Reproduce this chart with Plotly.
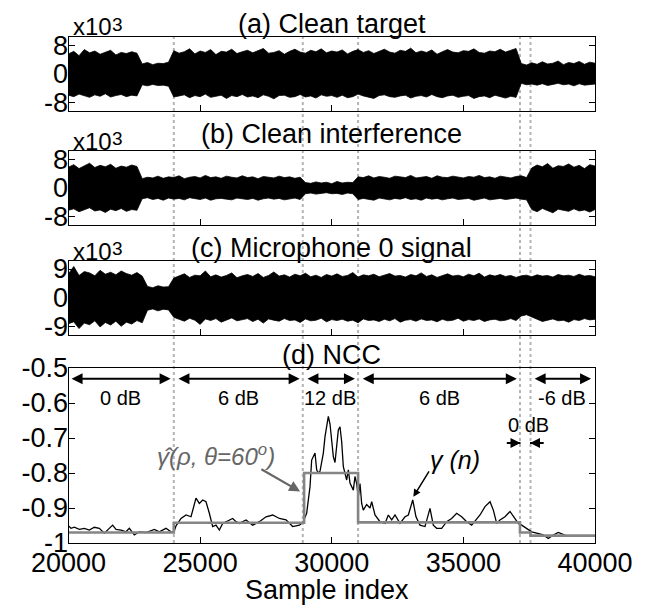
import plotly.graph_objects as go

PAGE_W, PAGE_H = 649, 608
OFF = 8                       # body margin of the page around the plot div
W, H = PAGE_W - OFF, PAGE_H - OFF
FONT = "Liberation Sans, Arial, sans-serif"

# ---------------- data ----------------
wave_x = [20000 + 200 * i for i in range(101)]   # sample positions of envelope readings

# (a) clean target envelope (x10^3)
a_hi = ([5.6, 6.3, 5.1, 6.8, 5.9, 6.4, 5.5, 6.1, 6.6, 5.3, 6.0, 5.7, 6.2, 5.8]
        + [2.8, 3.2, 2.6, 3.0, 2.9, 3.3]
        + [6.5, 5.8, 6.2, 7.0, 5.6, 6.4, 6.0, 6.8, 5.4, 6.3, 6.1, 6.9, 5.7, 6.2, 6.6, 5.9, 6.4, 7.1, 5.8, 6.0,
           6.5, 5.5, 6.3, 6.9, 6.1, 5.8, 6.6, 6.2, 7.0, 5.9, 6.4, 6.1, 6.7, 5.6, 6.3, 6.8, 6.0, 6.5, 5.7, 6.2,
           6.9, 6.1, 5.8, 6.6, 6.3, 7.2, 5.9, 6.4, 6.0, 6.7, 5.5, 6.2, 6.8, 6.1, 5.9, 6.5, 6.3, 7.0, 6.0, 5.8,
           6.4, 6.2, 6.9, 6.1, 6.6, 7.1]
        + [2.9, 2.5, 3.1, 2.7, 3.4, 2.8, 3.0, 3.6, 2.6, 3.2, 2.9, 3.5, 2.7, 3.3, 3.0])
a_lo = ([-5.9, -6.3, -5.6, -6.1, -6.5, -5.8, -6.2, -5.5, -6.4, -6.0, -5.7, -6.3, -5.9, -6.1]
        + [-3.0, -3.3, -2.9, -3.2, -3.1, -3.4]
        + [-6.4, -6.1, -5.8, -6.6, -6.0, -6.3, -5.6, -6.5, -6.2, -5.9, -6.8, -6.0, -6.3, -5.7, -6.4, -6.1,
           -6.6, -5.8, -6.2, -6.9, -6.0, -5.9, -6.5, -6.3, -5.7, -6.4, -6.1, -6.7, -5.8, -6.2, -6.0, -6.5,
           -5.9, -6.6, -6.3, -5.6, -6.1, -6.4, -6.8, -6.0, -5.8, -6.3, -6.5, -6.1, -5.9, -6.7, -6.2, -6.0,
           -6.4, -5.7, -6.3, -6.6, -6.1, -5.9, -6.5, -6.2, -6.0, -6.8, -6.3, -6.1, -6.6, -5.9, -6.4, -6.7,
           -6.2, -6.5]
        + [-2.6, -3.0, -2.8, -3.1, -2.7, -3.2, -2.9, -2.6, -3.0, -2.8, -3.3, -2.7, -3.1, -2.9, -2.8])

# (b) clean interference envelope (x10^3)
b_hi = ([5.8, 6.5, 5.4, 6.2, 6.9, 5.7, 6.3, 5.9, 6.6, 5.5, 6.1, 5.8, 6.4, 6.0]
        + [2.6, 3.0, 2.8, 3.3, 2.7, 3.1, 2.9, 3.4, 2.6, 3.0, 3.2, 2.8, 3.5, 2.9, 3.1, 2.7, 3.3, 3.0, 2.8, 3.4,
           2.9, 3.1, 2.6, 3.2, 3.0, 2.8, 3.3, 2.9, 3.1, 2.7, 3.0]
        + [1.5, 1.3, 1.7, 1.4, 1.6, 1.2, 1.8, 1.4, 1.6, 1.5]
        + [3.1, 2.9, 3.4, 2.8, 3.2, 3.0, 2.7, 3.3, 3.1, 2.9, 3.5, 2.8, 3.0, 3.2, 2.7, 3.4, 3.0, 2.9, 3.3, 3.1,
           2.8, 3.2, 3.0, 3.5, 2.9, 3.1, 2.7, 3.3, 3.0, 2.8, 3.2, 3.4, 2.9]
        + [5.6, 6.4, 5.9, 6.8, 5.5, 6.2, 6.0, 6.7, 5.8, 6.3, 5.4, 6.5, 6.1])
b_lo = ([-6.2, -5.8, -6.6, -6.0, -5.5, -6.4, -6.1, -6.8, -5.9, -6.3, -5.7, -6.5, -6.0, -6.2]
        + [-3.0, -2.7, -3.2, -2.9, -3.4, -2.8, -3.1, -2.9, -3.3, -2.7, -3.0, -3.2, -2.8, -3.4, -3.0, -2.9,
           -3.1, -3.3, -2.8, -3.0, -3.2, -2.9, -3.4, -3.0, -2.8, -3.1, -2.9, -3.3, -3.0, -2.8, -3.2]
        + [-1.6, -1.4, -1.7, -1.5, -1.3, -1.6, -1.5, -1.8, -1.4, -1.6]
        + [-3.2, -2.9, -3.1, -3.4, -2.8, -3.0, -3.3, -2.9, -3.1, -2.7, -3.2, -3.0, -3.4, -2.8, -3.1, -2.9,
           -3.3, -3.0, -2.8, -3.2, -3.1, -2.9, -3.4, -3.0, -2.8, -3.3, -3.1, -2.9, -3.2, -3.0, -2.8, -3.1, -3.3]
        + [-6.0, -6.6, -5.7, -6.3, -6.9, -5.9, -6.2, -6.5, -5.8, -6.4, -6.1, -6.7, -6.0])

# (c) microphone 0 signal envelope (x10^3)
c_hi = ([7.5, 9.8, 7.0, 8.2, 7.8, 6.9, 8.6, 7.4, 8.0, 7.2, 8.4, 7.6, 7.1, 7.9, 6.8]
        + [3.6, 3.2, 3.8, 3.4, 3.5]
        + [6.2, 6.8, 7.5, 6.4, 7.1, 6.9, 8.4, 6.6, 7.2, 6.5, 7.0, 7.8, 6.3, 6.9, 7.3, 6.7, 7.6, 6.4, 7.0, 8.1,
           6.8, 7.2, 6.5, 7.4, 6.9, 7.7, 6.6, 7.1, 6.4, 7.3, 6.8, 7.5, 6.7, 7.0, 7.9, 6.5, 7.2, 6.9, 7.4, 6.6,
           7.1, 7.6, 6.8, 7.0, 6.5, 7.3, 6.9, 7.8, 6.7, 7.2, 6.4, 7.0, 7.5, 6.8, 7.1, 6.6, 7.4, 6.9, 7.7, 6.5,
           7.2, 6.8, 7.3, 6.7, 7.0, 6.4, 6.9, 7.1, 6.6, 7.2, 6.8, 7.0, 6.5, 7.3, 6.9, 7.1, 6.7, 7.4, 6.8, 7.0,
           6.6])
c_lo = ([-8.0, -7.4, -9.5, -7.8, -8.3, -7.1, -9.0, -7.6, -8.4, -7.2, -8.8, -7.5, -8.1, -7.0, -7.7]
        + [-3.8, -3.4, -4.0, -3.5, -3.7]
        + [-6.0, -6.6, -7.2, -6.3, -6.9, -8.2, -6.5, -7.0, -6.4, -7.5, -6.8, -6.2, -7.1, -6.7, -6.4, -7.3,
           -6.6, -7.8, -6.5, -6.9, -7.2, -6.4, -7.0, -6.8, -7.6, -6.5, -7.1, -6.9, -6.3, -7.4, -6.7, -7.0,
           -6.6, -7.2, -6.9, -7.7, -6.5, -7.0, -6.8, -7.3, -6.6, -7.1, -6.4, -7.5, -6.9, -6.7, -7.2, -6.5,
           -7.0, -6.8, -7.4, -6.6, -7.1, -6.9, -6.3, -7.2, -6.7, -7.0, -6.5, -7.3,
           -6.8, -6.6, -7.1, -6.9, -6.4, -7.0, -5.6, -5.2, -5.8, -6.6, -7.3, -6.8, -6.5, -7.1, -6.9, -7.5,
           -6.7, -7.0, -6.4, -6.8, -6.6])

# (d) NCC gamma(n)
ncc_x = [20000, 20095, 20222, 20411, 20601, 20791, 20981, 21171, 21361, 21488, 21677, 21804, 21994, 22184,
         22311, 22501, 22691, 22944, 23260, 23450, 23704, 23894, 24000,
         24084, 24274, 24464, 24654, 24843, 24970, 25097, 25223, 25350, 25477, 25603, 25730, 25857, 26110,
         26237, 26364, 26490, 26744, 26997, 27250, 27503, 27757, 28010, 28263, 28516, 28770, 28896,
         29047, 29174, 29237, 29364, 29427, 29490, 29554, 29680, 29744, 29807, 29870, 29934, 29997, 30060,
         30123, 30187, 30250, 30313, 30377, 30440, 30567, 30630, 30693, 30820, 30883, 30946, 31009, 31073,
         31136, 31199, 31326, 31453, 31518, 31643, 31833, 32023, 32149, 32277, 32403, 32593, 32783, 32909,
         33077, 33200, 33352, 33542, 33732, 33858, 33985, 34175, 34365, 34555, 34745, 34935, 35125, 35315,
         35505, 35632, 35822, 36012, 36138, 36265, 36391, 36581, 36771, 36961, 37087, 37214, 37404, 37594,
         37784, 38036, 38226, 38416, 38606, 38900, 39300, 39700, 40000]
ncc_y = [-0.951, -0.958, -0.955, -0.961, -0.958, -0.963, -0.955, -0.958, -0.972, -0.963, -0.949, -0.961,
         -0.963, -0.968, -0.958, -0.977, -0.968, -0.970, -0.961, -0.968, -0.958, -0.968, -0.970,
         -0.951, -0.930, -0.920, -0.925, -0.872, -0.887, -0.877, -0.882, -0.915, -0.953, -0.949, -0.963,
         -0.944, -0.934, -0.930, -0.939, -0.944, -0.934, -0.949, -0.939, -0.925, -0.920, -0.930, -0.934,
         -0.953, -0.949, -0.942,
         -0.915, -0.839, -0.763, -0.743, -0.791, -0.800, -0.795, -0.743, -0.696, -0.668, -0.638, -0.660,
         -0.706, -0.753, -0.770, -0.725, -0.677, -0.668, -0.710, -0.782, -0.820, -0.791, -0.829, -0.849,
         -0.810, -0.830, -0.868, -0.830, -0.887, -0.906, -0.890, -0.900, -0.882, -0.920, -0.939, -0.944,
         -0.920, -0.934, -0.920, -0.944, -0.925, -0.920, -0.877, -0.925, -0.949, -0.953, -0.901, -0.949,
         -0.958, -0.958, -0.939, -0.930, -0.915, -0.925, -0.939, -0.949, -0.930, -0.920, -0.896, -0.882,
         -0.906, -0.944, -0.934, -0.925, -0.910, -0.930, -0.944, -0.949, -0.958, -0.968, -0.972, -0.977,
         -0.987, -0.977, -0.970, -0.979, -0.979, -0.979, -0.979]

# (d) NCC model gamma-hat(rho, theta=60deg), step levels
step_x = [20000, 24000, 28950, 31000, 37150, 37550, 40000]
step_y = [-0.970, -0.942, -0.800, -0.941, -0.970, -0.979, -0.979]

# SNR region boundaries and labels
bounds = [24000, 28900, 31000, 37150, 37550]
seg_arrows = [(20060, 23880), (24120, 28780), (29020, 30880), (31120, 37030), (37650, 39850)]
seg_labels = ["0 dB", "6 dB", "12 dB", "6 dB", "-6 dB"]

titles = ["(a) Clean target", "(b) Clean interference", "(c) Microphone 0 signal", "(d) NCC"]
x_ticks = [20000, 25000, 30000, 35000, 40000]
x_ticktext = ["20000", "25000", "30000", "35000", "40000"]
d_ticks = [-1, -0.9, -0.8, -0.7, -0.6, -0.5]
d_ticktext = ["-1", "-0.9", "-0.8", "-0.7", "-0.6", "-0.5"]

assert len(a_hi) == len(a_lo) == len(b_hi) == len(b_lo) == len(c_hi) == len(c_lo) == len(wave_x), \
    (len(a_hi), len(a_lo), len(b_hi), len(b_lo), len(c_hi), len(c_lo))
assert len(ncc_x) == len(ncc_y), (len(ncc_x), len(ncc_y))

# ---------------- layout geometry (page pixels) ----------------
XL, XR = 68.5, 595
panels_px = [(37, 111), (151, 225), (261, 335), (368, 543)]
title_y = [23.5, 134, 248, 355]


def fy(py):
    return 1 - (py - OFF) / H


def fx(px):
    return (px - OFF) / W


fig = go.Figure()

waves = [(a_hi, a_lo), (b_hi, b_lo), (c_hi, c_lo)]
for k, (hi, lo) in enumerate(waves):
    xa = "x" if k == 0 else f"x{k + 1}"
    ya = "y" if k == 0 else f"y{k + 1}"
    fig.add_trace(go.Scatter(x=wave_x, y=lo, mode="lines", line=dict(color="black", width=0.8),
                             xaxis=xa, yaxis=ya, showlegend=False, hoverinfo="skip"))
    fig.add_trace(go.Scatter(x=wave_x, y=hi, mode="lines", line=dict(color="black", width=0.8),
                             fill="tonexty", fillcolor="black",
                             xaxis=xa, yaxis=ya, showlegend=False, hoverinfo="skip"))

fig.add_trace(go.Scatter(x=ncc_x, y=ncc_y, mode="lines", line=dict(color="black", width=1.3),
                         xaxis="x4", yaxis="y4", showlegend=False))
fig.add_trace(go.Scatter(x=step_x, y=step_y, mode="lines", line=dict(color="#858585", width=2.6, shape="hv"),
                         xaxis="x4", yaxis="y4", showlegend=False))

axis_common = dict(range=[20000, 40000], showline=True, mirror=True, linecolor="black", linewidth=1.3,
                   ticks="inside", ticklen=6, tickcolor="black", tickvals=x_ticks, ticktext=x_ticktext,
                   showgrid=False, zeroline=False, domain=[fx(XL), fx(XR)], automargin=False,
                   ticklabelstandoff=-5,
                   tickfont=dict(family=FONT, size=27, color="black"))
yranges = [[-10.3, 10.3], [-10.3, 10.3], [-11.5, 11.5], [-1, -0.5]]
ytv = [[-8, 0, 8], [-8, 0, 8], [-9, 0, 9], d_ticks]
ytt = [["-8", "0", "8"], ["-8", "0", "8"], ["-9", "0", "9"], d_ticktext]

layout = dict(width=W, height=H, margin=dict(l=0, r=0, t=0, b=0, autoexpand=False), paper_bgcolor="white",
              plot_bgcolor="rgba(0,0,0,0)", showlegend=False)
for k in range(4):
    sx = "" if k == 0 else str(k + 1)
    xa = dict(axis_common)
    xa["anchor"] = "y" + sx
    xa["showticklabels"] = (k == 3)
    if k < 3:
        xa["matches"] = "x4"
    layout["xaxis" + sx] = xa
    t, b = panels_px[k]
    layout["yaxis" + sx] = dict(range=yranges[k], domain=[fy(b), fy(t)], anchor="x" + sx,
                                showline=True, mirror="ticks", linecolor="black", linewidth=1.3,
                                ticks="inside", ticklen=6, tickcolor="black", showgrid=False,
                                zeroline=False, tickvals=ytv[k], ticktext=ytt[k], automargin=False,
                                ticklabelstandoff=-6,
                                tickfont=dict(family=FONT, size=27, color="black"))
fig.update_layout(**layout)

# dotted vertical boundaries across all panels
for bx in bounds:
    fig.add_shape(type="line", xref="x4", yref="paper", x0=bx, x1=bx, y0=fy(543), y1=fy(33),
                  line=dict(color="#b4b4b4", width=2, dash="dot"), layer="below")

# small "0 dB" region marker: two short arrow shafts meeting the boundaries
for (sx0, sx1) in [(36650, 37170), (37530, 38050)]:
    fig.add_shape(type="line", xref="x4", yref="y4", x0=sx0, x1=sx1, y0=-0.714, y1=-0.714,
                  line=dict(color="black", width=2))

ann = []
# panel titles
for k, t in enumerate(titles):
    ann.append(dict(text=t, xref="paper", yref="paper", x=fx((XL + XR) / 2), y=fy(title_y[k]),
                    xanchor="center", yanchor="middle", showarrow=False,
                    font=dict(family=FONT, size=27, color="black")))
# x10^3 exponent labels
for k in range(3):
    top = panels_px[k][0]
    ann.append(dict(text="x10", xref="paper", yref="paper", x=fx(71), y=fy(top - 10),
                    xanchor="left", yanchor="middle", showarrow=False,
                    font=dict(family=FONT, size=24, color="black")))
    ann.append(dict(text="3", xref="paper", yref="paper", x=fx(109.5), y=fy(top - 12),
                    xanchor="left", yanchor="middle", showarrow=False,
                    font=dict(family=FONT, size=19, color="black")))
# SNR double arrows and labels
for (x0, x1), lab in zip(seg_arrows, seg_labels):
    ann.append(dict(x=x1, y=-0.531, ax=x0, ay=-0.531, xref="x4", yref="y4", axref="x4", ayref="y4",
                    text="", showarrow=True, arrowhead=2, startarrowhead=2, arrowside="end+start",
                    arrowsize=1.1, startarrowsize=1.1, arrowwidth=2, arrowcolor="black"))
    ann.append(dict(x=(x0 + x1) / 2, y=-0.585, xref="x4", yref="y4", text=lab, showarrow=False,
                    font=dict(family=FONT, size=20, color="black")))
# small 0 dB region label and arrowheads
ann.append(dict(x=37455, y=-0.663, xref="x4", yref="y4", text="0 dB", showarrow=False,
                font=dict(family=FONT, size=20, color="black")))
ann.append(dict(x=37170, y=-0.714, ax=36650, ay=-0.714, xref="x4", yref="y4", axref="x4", ayref="y4",
                text="", showarrow=True, arrowhead=2, arrowsize=1.0, arrowwidth=2, arrowcolor="black",
                standoff=0, startstandoff=0))
ann.append(dict(x=37530, y=-0.714, ax=38050, ay=-0.714, xref="x4", yref="y4", axref="x4", ayref="y4",
                text="", showarrow=True, arrowhead=2, arrowsize=1.0, arrowwidth=2, arrowcolor="black",
                standoff=0, startstandoff=0))
# gamma-hat label and arrow
ann.append(dict(x=25600, y=-0.749, xref="x4", yref="y4", text="<i>γ\u0302(ρ, θ=60<sup>o</sup>)</i>",
                showarrow=False, font=dict(family=FONT, size=24, color="#666666")))
ann.append(dict(x=28800, y=-0.853, ax=27270, ay=-0.787, xref="x4", yref="y4", axref="x4", ayref="y4",
                text="", showarrow=True, arrowhead=2, arrowsize=1.0, arrowwidth=2.2, arrowcolor="#666666"))
# gamma(n) label and arrow
ann.append(dict(x=34680, y=-0.762, xref="x4", yref="y4", text="<i>γ (n)</i>",
                showarrow=False, font=dict(family=FONT, size=25, color="black")))
ann.append(dict(x=33100, y=-0.868, ax=33730, ay=-0.791, xref="x4", yref="y4", axref="x4", ayref="y4",
                text="", showarrow=True, arrowhead=2, arrowsize=1.0, arrowwidth=1.5, arrowcolor="black"))
# x-axis title
ann.append(dict(text="Sample index", xref="paper", yref="paper", x=fx(327), y=fy(590),
                xanchor="center", yanchor="middle", showarrow=False,
                font=dict(family=FONT, size=27, color="black")))
fig.update_layout(annotations=ann)

fig.write_html("out.html")
